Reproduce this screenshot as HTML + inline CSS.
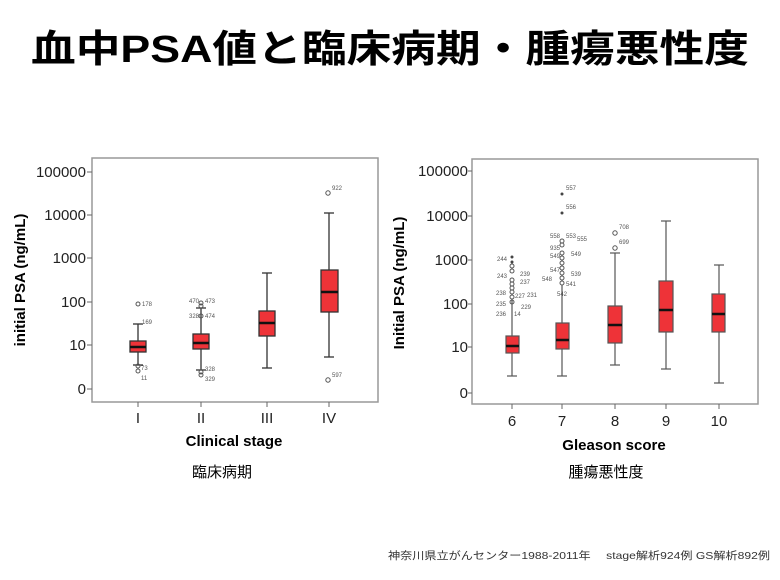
<!DOCTYPE html>
<html><head><meta charset="utf-8"><style>
body{margin:0;background:#fff;}
svg{display:block;}
text{font-family:"Liberation Sans","Noto Sans CJK JP",sans-serif;}
</style></head><body>
<svg width="780" height="580" viewBox="0 0 780 580" xmlns="http://www.w3.org/2000/svg">
<text x="390" y="62" text-anchor="middle" font-size="38" font-weight="bold" textLength="718" lengthAdjust="spacingAndGlyphs">血中PSA値と臨床病期・腫瘍悪性度</text>

<!-- LEFT CHART -->
<rect x="92" y="158" width="286" height="244" fill="#fff" stroke="#999" stroke-width="1.5"/>
<g font-size="15" fill="#222" text-anchor="end">
<text x="86" y="177">100000</text><text x="86" y="220">10000</text><text x="86" y="263">1000</text>
<text x="86" y="307">100</text><text x="86" y="350">10</text><text x="86" y="394">0</text>
</g>
<g stroke="#666"><line x1="87" x2="92" y1="172" y2="172"/><line x1="87" x2="92" y1="215" y2="215"/><line x1="87" x2="92" y1="258" y2="258"/><line x1="87" x2="92" y1="302" y2="302"/><line x1="87" x2="92" y1="345" y2="345"/><line x1="87" x2="92" y1="389" y2="389"/>
<line x1="138" x2="138" y1="402" y2="407"/><line x1="201" x2="201" y1="402" y2="407"/><line x1="267" x2="267" y1="402" y2="407"/><line x1="329" x2="329" y1="402" y2="407"/></g>
<text transform="translate(25,280) rotate(-90)" text-anchor="middle" font-size="15" font-weight="bold">initial PSA (ng/mL)</text>
<g font-size="15" fill="#222" text-anchor="middle"><text x="138" y="423">I</text><text x="201" y="423">II</text><text x="267" y="423">III</text><text x="329" y="423">IV</text></g>
<text x="234" y="446" text-anchor="middle" font-size="15" font-weight="bold">Clinical stage</text>
<text x="222" y="477" text-anchor="middle" font-size="15">臨床病期</text>

<g stroke="#333" stroke-width="1.3" fill="#ee3338">
<!-- I -->
<line x1="138" x2="138" y1="324" y2="365"/><line x1="133" x2="143" y1="324" y2="324"/><line x1="133" x2="143" y1="365" y2="365"/>
<rect x="130" y="341" width="16" height="11"/><line x1="130" x2="146" y1="347" y2="347" stroke-width="2.5" stroke="#111"/>
<!-- II -->
<line x1="201" x2="201" y1="308" y2="370"/><line x1="196" x2="206" y1="308" y2="308"/><line x1="196" x2="206" y1="370" y2="370"/>
<rect x="193" y="334" width="16" height="15"/><line x1="193" x2="209" y1="343" y2="343" stroke-width="2.5" stroke="#111"/>
<!-- III -->
<line x1="267" x2="267" y1="273" y2="368"/><line x1="262" x2="272" y1="273" y2="273"/><line x1="262" x2="272" y1="368" y2="368"/>
<rect x="259" y="311" width="16" height="25"/><line x1="259" x2="275" y1="323" y2="323" stroke-width="2.5" stroke="#111"/>
<!-- IV -->
<line x1="329" x2="329" y1="213" y2="357"/><line x1="324" x2="334" y1="213" y2="213"/><line x1="324" x2="334" y1="357" y2="357"/>
<rect x="321" y="270" width="17" height="42"/><line x1="321" x2="338" y1="292" y2="292" stroke-width="2.5" stroke="#111"/>
</g>
<g fill="none" stroke="#555" stroke-width="1">
<circle cx="138" cy="304" r="2"/><circle cx="138" cy="366" r="2"/><circle cx="138" cy="371" r="2"/>
<circle cx="201" cy="303" r="2"/><circle cx="201" cy="306" r="2"/><circle cx="201" cy="372" r="2"/><circle cx="201" cy="375" r="2"/><circle cx="201" cy="316" r="2"/>
<circle cx="328" cy="193" r="2.2"/><circle cx="328" cy="380" r="2.2"/>
</g>
<g font-size="6" fill="#555">
<text x="142" y="306">178</text><text x="142" y="324">169</text><text x="141" y="370">73</text><text x="141" y="380">11</text>
<text x="189" y="303">470</text><text x="205" y="303">473</text><text x="189" y="318">328</text><text x="205" y="318">474</text><text x="205" y="371">328</text><text x="205" y="381">329</text>
<text x="332" y="190">922</text><text x="332" y="377">597</text>
</g>

<!-- RIGHT CHART -->
<rect x="472" y="159" width="286" height="245" fill="#fff" stroke="#999" stroke-width="1.5"/>
<g font-size="15" fill="#222" text-anchor="end">
<text x="468" y="176">100000</text><text x="468" y="221">10000</text><text x="468" y="265">1000</text>
<text x="468" y="309">100</text><text x="468" y="352">10</text><text x="468" y="398">0</text>
</g>
<g stroke="#666"><line x1="468" x2="472" y1="171" y2="171"/><line x1="468" x2="472" y1="216" y2="216"/><line x1="468" x2="472" y1="260" y2="260"/><line x1="468" x2="472" y1="304" y2="304"/><line x1="468" x2="472" y1="347" y2="347"/><line x1="468" x2="472" y1="393" y2="393"/>
<line x1="512" x2="512" y1="404" y2="409"/><line x1="562" x2="562" y1="404" y2="409"/><line x1="615" x2="615" y1="404" y2="409"/><line x1="666" x2="666" y1="404" y2="409"/><line x1="719" x2="719" y1="404" y2="409"/></g>
<text transform="translate(404,283) rotate(-90)" text-anchor="middle" font-size="15" font-weight="bold">Initial PSA (ng/mL)</text>
<g font-size="15" fill="#222" text-anchor="middle"><text x="512" y="426">6</text><text x="562" y="426">7</text><text x="615" y="426">8</text><text x="666" y="426">9</text><text x="719" y="426">10</text></g>
<text x="614" y="450" text-anchor="middle" font-size="15" font-weight="bold">Gleason score</text>
<text x="606" y="477" text-anchor="middle" font-size="15">腫瘍悪性度</text>

<g stroke="#555" stroke-width="1.2" fill="#ee3338">
<line x1="512" x2="512" y1="300" y2="376"/><line x1="507" x2="517" y1="376" y2="376"/>
<rect x="506" y="336" width="13" height="17"/><line x1="506" x2="519" y1="346" y2="346" stroke-width="2.5" stroke="#111"/>
<line x1="562" x2="562" y1="285" y2="376"/><line x1="557" x2="567" y1="376" y2="376"/>
<rect x="556" y="323" width="13" height="26"/><line x1="556" x2="569" y1="340" y2="340" stroke-width="2.5" stroke="#111"/>
<line x1="615" x2="615" y1="253" y2="365"/><line x1="610" x2="620" y1="253" y2="253"/><line x1="610" x2="620" y1="365" y2="365"/>
<rect x="608" y="306" width="14" height="37"/><line x1="608" x2="622" y1="325" y2="325" stroke-width="2.5" stroke="#111"/>
<line x1="666" x2="666" y1="221" y2="369"/><line x1="661" x2="671" y1="221" y2="221"/><line x1="661" x2="671" y1="369" y2="369"/>
<rect x="659" y="281" width="14" height="51"/><line x1="659" x2="673" y1="310" y2="310" stroke-width="2.5" stroke="#111"/>
<line x1="719" x2="719" y1="265" y2="383"/><line x1="714" x2="724" y1="265" y2="265"/><line x1="714" x2="724" y1="383" y2="383"/>
<rect x="712" y="294" width="13" height="38"/><line x1="712" x2="725" y1="314" y2="314" stroke-width="2.5" stroke="#111"/>
</g>
<g fill="none" stroke="#555" stroke-width="1">
<circle cx="512" cy="302" r="2"/><circle cx="512" cy="297" r="2"/><circle cx="512" cy="292" r="2"/><circle cx="512" cy="288" r="2"/><circle cx="512" cy="284" r="2"/><circle cx="512" cy="280" r="2"/><circle cx="512" cy="271" r="2"/><circle cx="512" cy="266" r="2"/>
<circle cx="562" cy="283" r="2"/><circle cx="562" cy="278" r="2"/><circle cx="562" cy="273" r="2"/><circle cx="562" cy="268" r="2"/><circle cx="562" cy="263" r="2"/><circle cx="562" cy="258" r="2"/><circle cx="562" cy="253" r="2"/><circle cx="562" cy="245" r="2"/><circle cx="562" cy="241" r="2"/>
<circle cx="615" cy="233" r="2.2"/><circle cx="615" cy="248" r="2.2"/>
</g>
<g fill="#444"><circle cx="512" cy="257" r="1.5"/><circle cx="512" cy="262" r="1.5"/><circle cx="562" cy="194" r="1.5"/><circle cx="562" cy="213" r="1.5"/></g>
<g font-size="6" fill="#555">
<text x="497" y="261">244</text><text x="497" y="278">243</text><text x="520" y="276">239</text><text x="520" y="284">237</text>
<text x="496" y="295">238</text><text x="515" y="298">227</text><text x="527" y="297">231</text><text x="496" y="306">235</text><text x="521" y="309">229</text><text x="496" y="316">236</text><text x="514" y="316">14</text>
<text x="566" y="190">557</text><text x="566" y="209">556</text>
<text x="550" y="238">558</text><text x="566" y="238">553</text><text x="577" y="241">555</text><text x="550" y="250">935</text><text x="550" y="258">549</text><text x="571" y="256">549</text>
<text x="550" y="272">547</text><text x="542" y="281">548</text><text x="571" y="276">539</text><text x="566" y="286">541</text><text x="557" y="296">542</text>
<text x="619" y="229">708</text><text x="619" y="244">699</text>
</g>

<text x="388" y="559" font-size="10.5" fill="#333" textLength="382" lengthAdjust="spacingAndGlyphs">神奈川県立がんセンター1988-2011年　 stage解析924例  GS解析892例</text>
</svg>
</body></html>
